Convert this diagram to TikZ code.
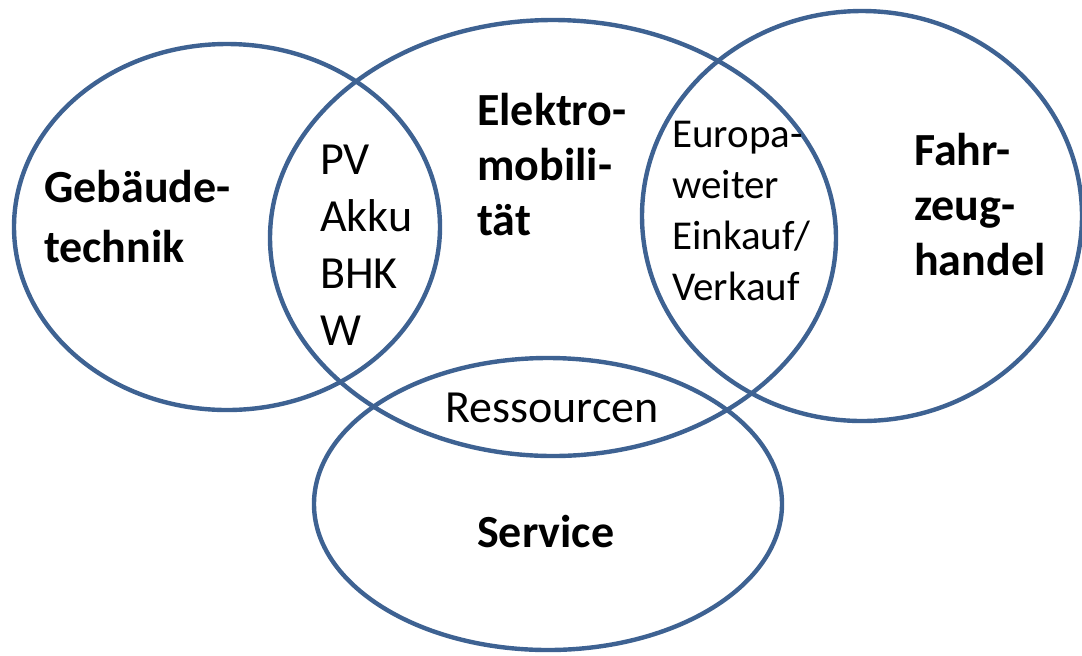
\documentclass[tikz,border=0pt]{standalone}
\usepackage{fontspec}
\setmainfont{Carlito}
\tikzset{
every picture/.style={
line width=2.2pt
}}
\usetikzlibrary{shapes}

\definecolor{ringblue}{RGB}{62,98,146}

\begin{document}
\begin{tikzpicture}[x=0.5pt, y=-0.5pt,
ring/.style = {ellipse, draw=ringblue, inner sep=0pt},
topic/.style = {inner sep=0pt, anchor=base west, align=left, font=\fontsize{23}{28}\selectfont\bfseries},
item/.style = {inner sep=0pt, anchor=base west, align=left, font=\fontsize{23}{28.5}\selectfont}]

\useasboundingbox (0,0) rectangle (1082,655);

% the four fields
\node[ring, minimum width=213pt, minimum height=183pt] (geb) at (227,227) {};
\node[ring, minimum width=283pt, minimum height=218pt] (emob) at (553,238) {};
\node[ring, minimum width=220pt, minimum height=205pt] (fzh) at (862,216) {};
\node[ring, minimum width=234pt, minimum height=146pt] (serv) at (548,504) {};

% names of the fields (base = last line)
\node[topic, font=\fontsize{23}{30}\selectfont\bfseries] (tgeb) at (42,262) {Gebäude-\\technik};
\node[topic, font=\fontsize{23}{27.5}\selectfont\bfseries] (temob) at (475,235) {Elektro-\\mobili-\\tät};
\node[topic, font=\fontsize{23}{27.5}\selectfont\bfseries] (tfzh) at (912,275) {Fahr-\\zeug-\\handel};
\node[topic] (tserv) at (475,547) {Service};

% overlaps
\node[item] (pv) at (318,345) {PV\\Akku\\BHK\\W};
\node[item, font=\fontsize{20.5}{25.5}\selectfont] (eu) at (670,300) {Europa-\\weiter\\Einkauf/\\Verkauf};
\node[item] (res) at (443,422) {Ressourcen};
\end{tikzpicture}
\end{document}
